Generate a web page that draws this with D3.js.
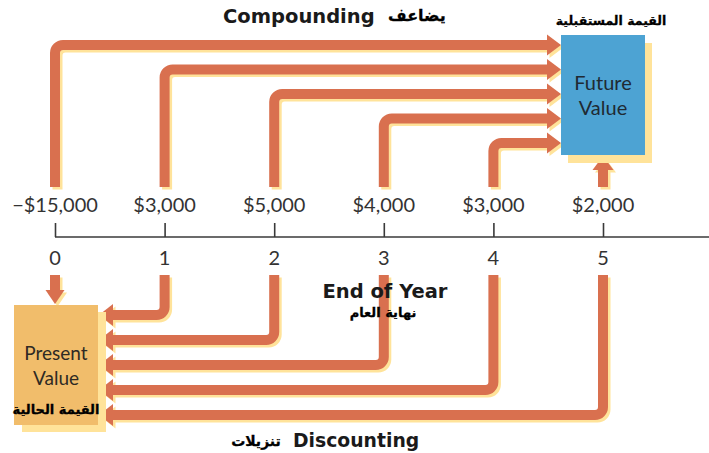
<!DOCTYPE html>
<html>
<head>
<meta charset="utf-8">
<script src="https://cdn.jsdelivr.net/npm/d3@7"></script>
<style>
  html, body { margin: 0; padding: 0; background: #fff; }
  svg { display: block; }
</style>
</head>
<body>
<div id="chart"></div>
<script>
// Cash flow timeline: compounding (top) and discounting (bottom)
const years = [0, 1, 2, 3, 4, 5];
const cashFlows = [-15000, 3000, 5000, 4000, 3000, 2000];
const compoundYears = [0, 1, 2, 3, 4];
const discountYears = [1, 2, 3, 4, 5];
const titleTop = 'Compounding';
const titleTopAr = 'يضاعف';
const titleBottom = 'Discounting';
const titleBottomAr = 'تنزيلات';
const axisTitle = 'End of Year';
const axisTitleAr = 'نهاية العام';
const futureLabel = ['Future', 'Value'];
const futureLabelAr = 'القيمة المستقبلية';
const presentLabel = ['Present', 'Value'];
const presentLabelAr = 'القيمة الحالية';

const width = 709;
const height = 453;

const ORANGE = '#d9704f';
const SHADOW = '#ffe39a';
const BLUE = '#4da3d3';
const GOLD = '#f1bd6b';
const LIGHT_FONT = 'Lato, sans-serif';
const BOLD_FONT = '"DejaVu Sans", sans-serif';
const AR_FONT = '"DejaVu Sans", sans-serif';

const svg = d3.select('#chart')
  .append('svg')
  .attr('width', width)
  .attr('height', height);

// Scales
const x = d3.scaleLinear().domain([0, 5]).range([55, 603]);
const yCompound = d3.scaleLinear().domain([0, 4]).range([45, 143]);
const yDiscount = d3.scaleLinear().domain([1, 5]).range([315, 415]);

const axisY = 237;
const topStart = 187;
const bottomStart = 275;
const r = 8;

// Boxes
const fvBox = { x0: 561, x1: 645, y0: 35, y1: 155 };
const pvBox = { x0: 14, x1: 98, y0: 305, y1: 425 };

const gArrows = svg.append('g');

function drawArrow(d, head) {
  const pts = head.map(p => p.join(',')).join(' ');
  const sh = gArrows.append('g').attr('transform', 'translate(2.5,2.5)');
  sh.append('path').attr('d', d).attr('fill', 'none')
    .attr('stroke', SHADOW).attr('stroke-width', 10);
  sh.append('polygon').attr('points', pts).attr('fill', SHADOW);
  gArrows.append('path').attr('d', d).attr('fill', 'none')
    .attr('stroke', ORANGE).attr('stroke-width', 10);
  gArrows.append('polygon').attr('points', pts).attr('fill', ORANGE);
}

// Compounding arrows
const fvHeadBase = fvBox.x0 - 14;
compoundYears.forEach(yr => {
  const cx = x(yr), cy = yCompound(yr);
  const d = `M${cx},${topStart}V${cy + r}A${r},${r} 0 0 1 ${cx + r},${cy}H${fvHeadBase + 1}`;
  drawArrow(d, [[fvHeadBase, cy - 10.5], [fvBox.x0, cy], [fvHeadBase, cy + 10.5]]);
});

// Year 5 straight up into future value
{
  const cx = x(5);
  drawArrow(`M${cx},${topStart}V169`,
    [[cx - 10.5, 170], [cx, fvBox.y1 + 1], [cx + 10.5, 170]]);
}

// Discounting arrows
const pvHeadBase = pvBox.x1 + 15;
discountYears.forEach(yr => {
  const cx = x(yr), cy = yDiscount(yr);
  const d = `M${cx},${bottomStart}V${cy - r}A${r},${r} 0 0 1 ${cx - r},${cy}H${pvHeadBase - 1}`;
  drawArrow(d, [[pvHeadBase, cy - 11], [pvBox.x1 + 1, cy], [pvHeadBase, cy + 11]]);
});

// Year 0 straight down into present value
{
  const cx = x(0);
  drawArrow(`M${cx},${bottomStart}V291`,
    [[cx - 9.5, 290], [cx, pvBox.y0 - 1], [cx + 9.5, 290]]);
}

// Future value box
svg.append('rect')
  .attr('x', fvBox.x0 + 7).attr('y', fvBox.y0 + 8)
  .attr('width', fvBox.x1 - fvBox.x0).attr('height', fvBox.y1 - fvBox.y0)
  .attr('fill', SHADOW);
svg.append('rect')
  .attr('x', fvBox.x0).attr('y', fvBox.y0)
  .attr('width', fvBox.x1 - fvBox.x0).attr('height', fvBox.y1 - fvBox.y0)
  .attr('fill', BLUE);
svg.selectAll('.fv-label')
  .data(futureLabel)
  .join('text')
  .attr('class', 'fv-label')
  .attr('x', (fvBox.x0 + fvBox.x1) / 2)
  .attr('y', (d, i) => 90 + i * 25)
  .attr('text-anchor', 'middle')
  .attr('font-family', LIGHT_FONT)
  .attr('font-size', 20)
  .attr('fill', '#1f2a33')
  .text(d => d);

// Present value box
svg.append('rect')
  .attr('x', pvBox.x0 + 8).attr('y', pvBox.y0 + 7)
  .attr('width', pvBox.x1 - pvBox.x0).attr('height', pvBox.y1 - pvBox.y0)
  .attr('fill', SHADOW);
svg.append('rect')
  .attr('x', pvBox.x0).attr('y', pvBox.y0)
  .attr('width', pvBox.x1 - pvBox.x0).attr('height', pvBox.y1 - pvBox.y0)
  .attr('fill', GOLD);
svg.selectAll('.pv-label')
  .data(presentLabel)
  .join('text')
  .attr('class', 'pv-label')
  .attr('x', (pvBox.x0 + pvBox.x1) / 2)
  .attr('y', (d, i) => 360 + i * 25)
  .attr('text-anchor', 'middle')
  .attr('font-family', LIGHT_FONT)
  .attr('font-size', 19)
  .attr('fill', '#2e2a24')
  .text(d => d);

// Axis
svg.append('line')
  .attr('x1', x(0)).attr('x2', width)
  .attr('y1', axisY).attr('y2', axisY)
  .attr('stroke', '#3a3a3a').attr('stroke-width', 1.6);

const axis = d3.axisTop(x)
  .tickValues(years)
  .tickSize(14)
  .tickSizeOuter(0)
  .tickFormat('');
const gAxis = svg.append('g')
  .attr('transform', `translate(0,${axisY})`)
  .call(axis);
gAxis.select('.domain').remove();
gAxis.selectAll('.tick line').attr('stroke', '#3a3a3a').attr('stroke-width', 1.6);

// Year labels
svg.selectAll('.year')
  .data(years)
  .join('text')
  .attr('class', 'year')
  .attr('x', d => x(d))
  .attr('y', 265)
  .attr('text-anchor', 'middle')
  .attr('font-family', LIGHT_FONT)
  .attr('font-size', 20)
  .attr('fill', '#333')
  .text(d => d);

// Cash flow labels
const fmt = d3.format('$,');
svg.selectAll('.cf')
  .data(years)
  .join('text')
  .attr('class', 'cf')
  .attr('x', d => x(d))
  .attr('y', 212)
  .attr('text-anchor', 'middle')
  .attr('font-family', LIGHT_FONT)
  .attr('font-size', 20)
  .attr('fill', '#333')
  .text((d, i) => fmt(cashFlows[i]));

// Titles
function boldText(txt, xPos, yPos, anchor, size) {
  svg.append('text')
    .attr('x', xPos).attr('y', yPos)
    .attr('text-anchor', anchor)
    .attr('font-family', BOLD_FONT)
    .attr('font-weight', 'bold')
    .attr('font-size', size)
    .attr('fill', '#1a1a1a')
    .text(txt);
}
function arabicText(txt, xPos, yPos, size) {
  svg.append('text')
    .attr('x', xPos).attr('y', yPos)
    .attr('text-anchor', 'middle')
    .attr('direction', 'rtl')
    .attr('font-family', AR_FONT)
    .attr('font-weight', 'bold')
    .attr('font-size', size)
    .attr('fill', '#000')
    .attr('stroke', '#000')
    .attr('stroke-width', 0.3)
    .text(txt);
}

boldText(titleTop, 223, 23, 'start', 19.5);
arabicText(titleTopAr, 417, 21, 16);
arabicText(futureLabelAr, 611, 25, 12.5);
boldText(axisTitle, 385, 298, 'middle', 19.5);
arabicText(axisTitleAr, 383, 317, 13);
arabicText(presentLabelAr, 56, 414, 13);
boldText(titleBottom, 293, 447, 'start', 18.8);
arabicText(titleBottomAr, 256, 446, 14);
</script>
</body>
</html>
